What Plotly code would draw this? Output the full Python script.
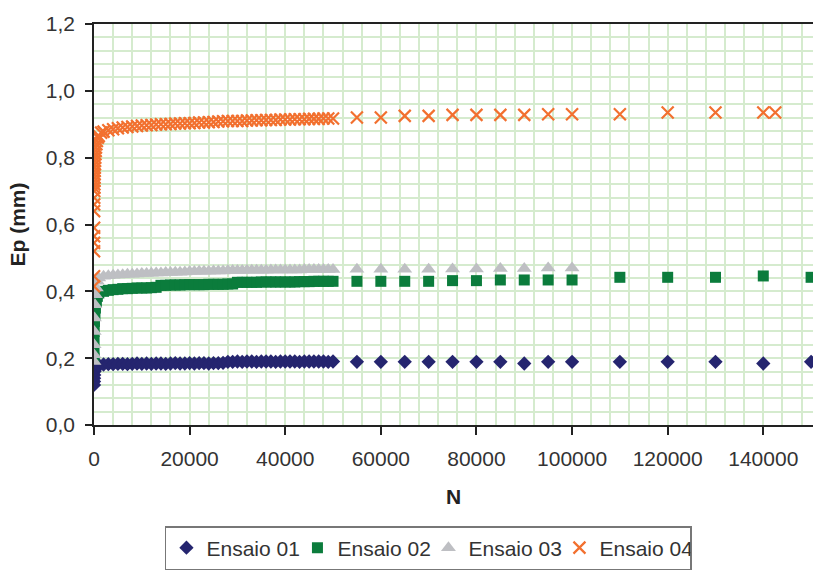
import plotly.graph_objects as go

# ---------------- data ----------------
N_dense = [0, 10, 20, 50, 100, 200, 300, 500, 700, 1000,
           2000, 3000, 4000, 5000, 6000, 7000, 8000, 9000, 10000,
           11000, 12000, 13000, 14000, 15000, 16000, 17000, 18000, 19000, 20000,
           21000, 22000, 23000, 24000, 25000, 26000, 27000, 28000, 29000, 30000,
           31000, 32000, 33000, 34000, 35000, 36000, 37000, 38000, 39000, 40000,
           41000, 42000, 43000, 44000, 45000, 46000, 47000, 48000, 49000, 50000]

N_late_long = [55000, 60000, 65000, 70000, 75000, 80000, 85000, 90000, 95000, 100000,
               110000, 120000, 130000, 140000, 150000]
N_late_03 = [55000, 60000, 65000, 70000, 75000, 80000, 85000, 90000, 95000, 100000]

ep01_dense = [0.12, 0.13, 0.14, 0.15, 0.16, 0.165, 0.17, 0.175, 0.178, 0.18,
              0.181, 0.182, 0.182, 0.183, 0.183, 0.182, 0.183, 0.184, 0.183,
              0.184, 0.183, 0.184, 0.184, 0.183, 0.184, 0.185, 0.184, 0.184, 0.185,
              0.184, 0.185, 0.185, 0.184, 0.185, 0.185, 0.186, 0.189, 0.189, 0.19,
              0.189, 0.19, 0.19, 0.189, 0.19, 0.19, 0.19, 0.189, 0.19, 0.19,
              0.19, 0.19, 0.189, 0.19, 0.19, 0.19, 0.19, 0.19, 0.189, 0.19]
ep01_late = [0.189, 0.189, 0.189, 0.189, 0.189, 0.189, 0.189, 0.184, 0.189, 0.189,
             0.189, 0.189, 0.189, 0.184, 0.189]

ep02_dense = [0.20, 0.22, 0.25, 0.28, 0.31, 0.33, 0.35, 0.37, 0.385, 0.395,
              0.400, 0.403, 0.405, 0.406, 0.408, 0.408, 0.409, 0.410, 0.410,
              0.410, 0.411, 0.412, 0.418, 0.418, 0.419, 0.419, 0.419, 0.420, 0.420,
              0.420, 0.420, 0.420, 0.421, 0.421, 0.421, 0.421, 0.422, 0.422, 0.427,
              0.427, 0.427, 0.427, 0.427, 0.428, 0.428, 0.428, 0.428, 0.428, 0.428,
              0.428, 0.428, 0.429, 0.429, 0.429, 0.430, 0.430, 0.430, 0.430, 0.430]
ep02_late = [0.430, 0.430, 0.430, 0.430, 0.432, 0.432, 0.434, 0.434, 0.434, 0.434,
             0.442, 0.442, 0.442, 0.446, 0.442]

ep03_dense = [0.19, 0.21, 0.24, 0.28, 0.32, 0.36, 0.39, 0.41, 0.43, 0.44,
              0.445, 0.447, 0.448, 0.449, 0.450, 0.451, 0.451, 0.452, 0.453,
              0.453, 0.454, 0.455, 0.455, 0.456, 0.456, 0.457, 0.457, 0.458, 0.459,
              0.459, 0.460, 0.460, 0.460, 0.461, 0.461, 0.461, 0.462, 0.462, 0.462,
              0.462, 0.463, 0.463, 0.463, 0.463, 0.463, 0.464, 0.464, 0.464, 0.464,
              0.464, 0.464, 0.464, 0.465, 0.465, 0.465, 0.465, 0.465, 0.465, 0.465]
ep03_late = [0.466, 0.466, 0.466, 0.466, 0.467, 0.467, 0.468, 0.468, 0.470, 0.470]

N04 = [0, 5, 10, 15, 20, 25, 30, 40, 50, 60, 70, 80, 90, 100, 120, 140, 160, 180,
       200, 250, 300, 350, 400, 500, 600, 800, 1000, 1500,
       2000, 3000, 4000, 5000, 6000, 7000, 8000, 9000, 10000,
       11000, 12000, 13000, 14000, 15000, 16000, 17000, 18000, 19000, 20000,
       21000, 22000, 23000, 24000, 25000, 26000, 27000, 28000, 29000, 30000,
       31000, 32000, 33000, 34000, 35000, 36000, 37000, 38000, 39000, 40000,
       41000, 42000, 43000, 44000, 45000, 46000, 47000, 48000, 49000, 50000,
       55000, 60000, 65000, 70000, 75000, 80000, 85000, 90000, 95000, 100000,
       110000, 120000, 130000, 140000, 142500]
ep04 = [0.415, 0.445, 0.52, 0.545, 0.565, 0.59, 0.64, 0.66, 0.68, 0.70, 0.71, 0.72,
        0.73, 0.74, 0.75, 0.76, 0.77, 0.78, 0.79, 0.80, 0.81, 0.82, 0.83, 0.84,
        0.85, 0.86, 0.865, 0.875,
        0.878, 0.882, 0.885, 0.888, 0.890, 0.892, 0.893, 0.895, 0.896,
        0.897, 0.898, 0.899, 0.900, 0.900, 0.901, 0.902, 0.902, 0.903, 0.903,
        0.904, 0.905, 0.905, 0.906, 0.907, 0.908, 0.909, 0.910, 0.910, 0.910,
        0.910, 0.911, 0.911, 0.912, 0.912, 0.913, 0.913, 0.913, 0.914, 0.914,
        0.914, 0.915, 0.915, 0.915, 0.916, 0.916, 0.916, 0.917, 0.917, 0.917,
        0.920, 0.920, 0.925, 0.925, 0.928, 0.928, 0.928, 0.928, 0.930, 0.930,
        0.930, 0.935, 0.935, 0.935, 0.935]

series_names = ["Ensaio 01", "Ensaio 02", "Ensaio 03", "Ensaio 04"]
x_tick_vals = [0, 20000, 40000, 60000, 80000, 100000, 120000, 140000]
y_tick_vals = [0.0, 0.2, 0.4, 0.6, 0.8, 1.0, 1.2]

# ---------------- figure ----------------
FONT = "Liberation Sans, Arial, sans-serif"
GRID = "#d5ebce"

fig = go.Figure()
fig.add_trace(go.Scatter(
    x=N_dense + N_late_long, y=ep01_dense + ep01_late, mode="markers",
    name=series_names[0],
    marker=dict(symbol="diamond", size=11, color="#25256f")))
fig.add_trace(go.Scatter(
    x=N_dense + N_late_long, y=ep02_dense + ep02_late, mode="markers",
    name=series_names[1],
    marker=dict(symbol="square", size=11, color="#0b7c3c")))
fig.add_trace(go.Scatter(
    x=N_dense + N_late_03, y=ep03_dense + ep03_late, mode="markers",
    name=series_names[2],
    marker=dict(symbol="triangle-up", size=13, color="#bebfc3")))
fig.add_trace(go.Scatter(
    x=N04, y=ep04, mode="markers",
    name=series_names[3],
    marker=dict(symbol="x-thin", size=12, color="#f2702f",
                line=dict(width=2.2, color="#f2702f"))))

fig.update_layout(
    width=813, height=570,
    margin=dict(l=94, r=0, t=24, b=145),
    paper_bgcolor="white", plot_bgcolor="white",
    font=dict(family=FONT, size=21, color="#333333"),
    separators=", ",
    showlegend=True,
    legend=dict(
        orientation="h",
        xref="container", yref="container",
        x=0.527, xanchor="center",
        y=0.0, yanchor="bottom",
        bordercolor="#777777", borderwidth=1.5,
        bgcolor="white",
        font=dict(size=21, color="#333333"),
        itemwidth=30,
        entrywidth=86, entrywidthmode="pixels",
        tracegroupgap=0,
    ),
    xaxis=dict(
        range=[0, 150400],
        tickmode="array", tickvals=x_tick_vals,
        tickformat="d", exponentformat="none",
        ticks="outside", ticklen=8, tickwidth=1.5, tickcolor="#222222",
        showline=True, linecolor="#222222", linewidth=1.5, mirror=True,
        showgrid=True, gridcolor=GRID, gridwidth=1.5,
        minor=dict(dtick=4000, tick0=0, showgrid=True, gridcolor=GRID, gridwidth=1.5),
        zeroline=False,
        ticklabelstandoff=6,
        title=dict(text="<b>N</b>", font=dict(size=21, color="#222222"), standoff=20),
    ),
    yaxis=dict(
        range=[0, 1.2],
        tickmode="array", tickvals=y_tick_vals,
        tickformat=".1f",
        ticks="outside", ticklen=7, tickwidth=1.5, tickcolor="#222222",
        showline=True, linecolor="#222222", linewidth=1.5,
        showgrid=True, gridcolor=GRID, gridwidth=1.5,
        minor=dict(dtick=0.04, tick0=0, showgrid=True, gridcolor=GRID, gridwidth=1.5),
        zeroline=False,
        ticklabelstandoff=6,
        title=dict(text="<b>Ep (mm)</b>", font=dict(size=21, color="#222222"), standoff=14),
    ),
)

fig.write_html("out.html")
